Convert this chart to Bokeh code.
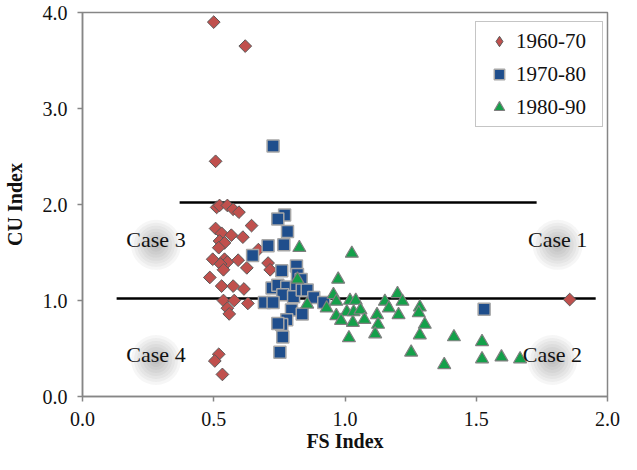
import math
from bokeh.plotting import figure
from bokeh.models import (ColumnDataSource, FixedTicker, PrintfTickFormatter,
                          Legend, LegendItem, Range1d)
from bokeh.core.properties import value
from bokeh.embed import file_html
from bokeh.resources import INLINE

# ---------------- data ----------------
fs_6070 = [0.50, 0.62, 0.507, 0.511, 0.522, 0.552, 0.574, 0.596, 0.644, 0.507,
           0.530, 0.567, 0.611, 0.522, 0.541, 0.519, 0.670, 0.496, 0.541, 0.552,
           0.593, 0.526, 0.626, 0.537, 0.707, 0.715, 0.485, 0.530, 0.574, 0.615,
           0.537, 0.578, 0.630, 0.552, 0.559, 0.519, 0.504, 0.533, 1.856]
cu_6070 = [3.90, 3.65, 2.45, 1.97, 1.99, 1.99, 1.95, 1.92, 1.78, 1.75,
           1.70, 1.68, 1.66, 1.62, 1.60, 1.55, 1.53, 1.43, 1.43, 1.40,
           1.42, 1.38, 1.34, 1.32, 1.39, 1.32, 1.24, 1.15, 1.15, 1.12,
           1.00, 1.00, 0.97, 0.92, 0.86, 0.44, 0.37, 0.23, 1.01]

fs_7080 = [0.726, 0.770, 0.744, 0.781, 0.767, 0.707, 0.648, 0.759, 0.815, 0.819,
           0.833, 0.722, 0.744, 0.778, 0.815, 0.763, 0.804, 0.837, 0.856, 0.881,
           0.919, 0.693, 0.726, 0.796, 0.837, 0.778, 0.759, 0.744, 0.763, 0.752,
           1.530]
cu_7080 = [2.61, 1.89, 1.85, 1.72, 1.58, 1.57, 1.47, 1.31, 1.36, 1.27,
           1.22, 1.13, 1.16, 1.14, 1.13, 1.06, 1.04, 1.11, 1.11, 1.03,
           0.98, 0.98, 0.98, 0.90, 0.86, 0.80, 0.75, 0.76, 0.62, 0.46,
           0.91]

fs_8090 = [0.826, 0.819, 0.856, 1.026, 0.974, 0.956, 0.930, 0.967, 1.019, 1.041,
           0.967, 1.007, 1.033, 1.059, 1.074, 0.985, 1.030, 1.015, 1.122, 1.126,
           1.115, 1.152, 1.200, 1.219, 1.167, 1.204, 1.285, 1.281, 1.304, 1.285,
           1.252, 1.415, 1.522, 1.522, 1.378, 1.596, 1.667]
cu_8090 = [1.55, 1.22, 0.96, 1.49, 1.22, 1.06, 0.92, 0.99, 1.00, 1.00,
           0.84, 0.88, 0.88, 0.90, 0.80, 0.79, 0.77, 0.61, 0.85, 0.75,
           0.65, 0.99, 1.07, 0.99, 0.92, 0.85, 0.93, 0.87, 0.75, 0.64,
           0.46, 0.62, 0.57, 0.39, 0.33, 0.41, 0.39]

series_labels = ["1960-70", "1970-80", "1980-90"]

# threshold lines (x extent, y level)
upper_line_x = [0.37, 1.73]
upper_line_y = [2.02, 2.02]
lower_line_x = [0.13, 1.955]
lower_line_y = [1.02, 1.02]

# case annotations
case_labels = ["Case 3", "Case 1", "Case 4", "Case 2"]
case_x = [0.28, 1.81, 0.28, 1.79]
case_y = [1.64, 1.64, 0.44, 0.44]

x_ticks = [0.0, 0.5, 1.0, 1.5, 2.0]
y_ticks = [0.0, 1.0, 2.0, 3.0, 4.0]

# ---------------- figure ----------------
SERIF = "Liberation Serif"
AXIS_GREY = "#868686"

p = figure(width=621, height=454, output_backend="svg", toolbar_location=None,
           x_range=Range1d(0, 2), y_range=Range1d(0, 4),
           min_border_left=80, min_border_right=14, min_border_top=12,
           min_border_bottom=56)
p.background_fill_color = "white"
p.border_fill_color = "white"
p.outline_line_color = AXIS_GREY
p.outline_line_width = 1.5
p.grid.visible = False

p.xaxis.ticker = FixedTicker(ticks=x_ticks)
p.yaxis.ticker = FixedTicker(ticks=y_ticks)
for ax in (p.xaxis, p.yaxis):
    ax.formatter = PrintfTickFormatter(format="%.1f")
    ax.axis_line_color = AXIS_GREY
    ax.axis_line_width = 1.5
    ax.major_tick_line_color = AXIS_GREY
    ax.major_tick_line_width = 1.5
    ax.major_tick_in = 0
    ax.major_tick_out = 5
    ax.minor_tick_line_color = None
    ax.major_label_text_font = SERIF
    ax.major_label_text_font_size = "20px"
    ax.major_label_text_color = "#111111"
    ax.axis_label_text_font = SERIF
    ax.axis_label_text_font_size = "20px"
    ax.axis_label_text_font_style = "bold"
    ax.axis_label_text_color = "#111111"
p.xaxis.axis_label = "FS Index"
p.yaxis.axis_label = "CU Index"
p.xaxis.major_label_standoff = 10
p.yaxis.major_label_standoff = 10
p.xaxis.axis_label_standoff = 1
p.yaxis.axis_label_standoff = 14

# soft shadow blobs behind case labels
blob_src = ColumnDataSource(dict(x=case_x, y=[v - 0.06 for v in case_y]))
for s in [50, 44, 38, 32, 26, 20, 14, 8]:
    p.scatter("x", "y", source=blob_src, marker="circle", size=s,
              fill_color="#5a5a5a", fill_alpha=0.055, line_color=None)

# threshold lines
p.line(upper_line_x, upper_line_y, line_color="black", line_width=2.5)
p.line(lower_line_x, lower_line_y, line_color="black", line_width=2.5)

RED, BLUE, GREEN = "#C0504D", "#1F4E8C", "#14A04A"

src_r = ColumnDataSource(dict(x=fs_6070, y=cu_6070))
src_b = ColumnDataSource(dict(x=fs_7080, y=cu_7080))
src_g = ColumnDataSource(dict(x=fs_8090, y=cu_8090))

# legend-only diamond (hidden beneath the rotated squares)
r_leg = p.scatter("x", "y", source=src_r, marker="diamond", size=1,
                  fill_color=RED, line_color="#595959", line_width=1)
r_red = p.scatter("x", "y", source=src_r, marker="square", angle=math.pi / 4,
                  size=9, fill_color=RED, line_color="#595959", line_width=1)
r_blue = p.scatter("x", "y", source=src_b, marker="square", size=12,
                   fill_color=BLUE, line_color="#A6A6A6", line_width=1.5)
r_green = p.scatter("x", "y", source=src_g, marker="triangle", size=13,
                    fill_color=GREEN, line_color="#7F7F7F", line_width=1.2)

p.text(case_x, case_y, text=case_labels, text_font=value(SERIF),
       text_font_size="22px", text_color="#111111",
       text_align="center", text_baseline="middle")

legend = Legend(items=[LegendItem(label=series_labels[0], renderers=[r_leg]),
                       LegendItem(label=series_labels[1], renderers=[r_blue]),
                       LegendItem(label=series_labels[2], renderers=[r_green])],
                location=(393, 269))
legend.margin = 0
legend.padding = 6
legend.spacing = 7
legend.glyph_width = 34
legend.glyph_height = 26
legend.label_standoff = 0
legend.label_width = 80
legend.label_height = 26
legend.label_text_font = SERIF
legend.label_text_font_size = "21px"
legend.label_text_color = "#111111"
legend.border_line_color = "#8C8C8C"
legend.border_line_width = 1.5
legend.background_fill_color = "white"
legend.background_fill_alpha = 1.0
p.add_layout(legend)

open("out.html", "w").write(file_html(p, INLINE))
